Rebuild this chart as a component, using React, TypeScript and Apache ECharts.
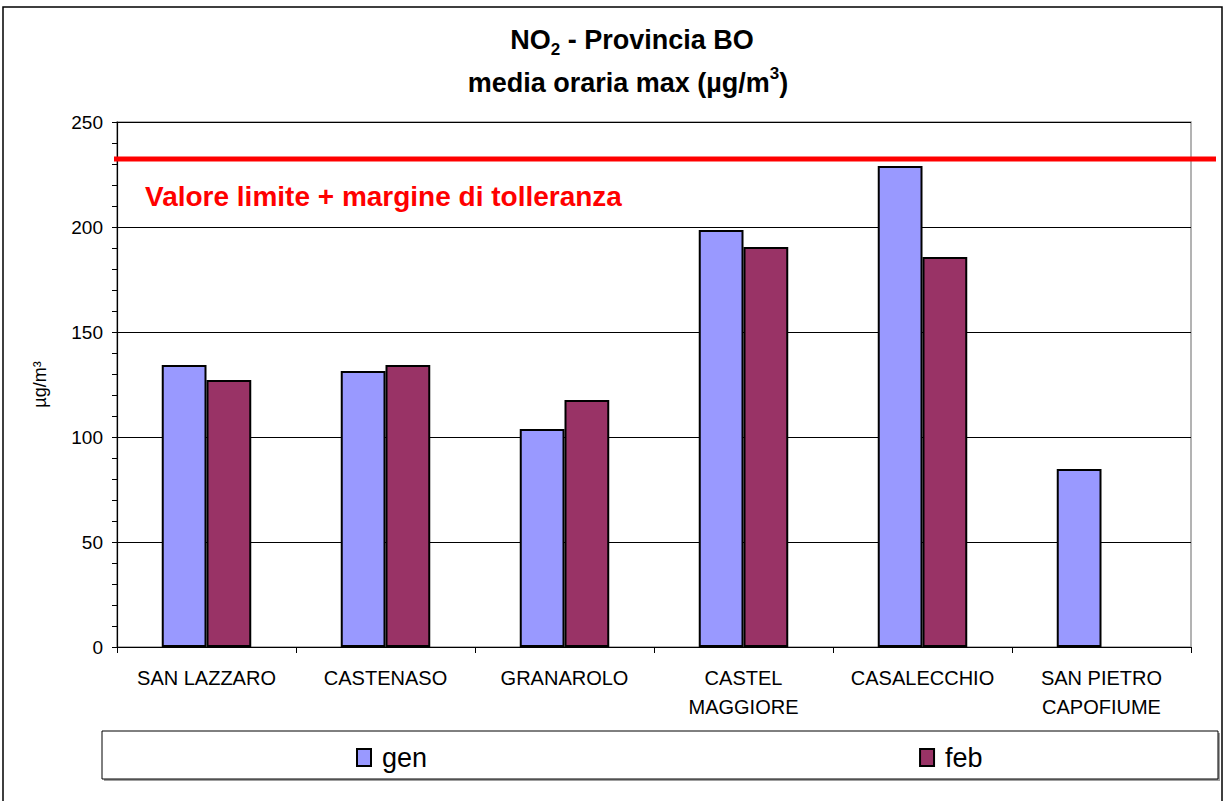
import React, { useEffect, useRef } from "react";
import * as echarts from "echarts";

const categories = ["SAN LAZZARO", "CASTENASO", "GRANAROLO", "CASTEL\nMAGGIORE", "CASALECCHIO", "SAN PIETRO\nCAPOFIUME"];
const genValues: (number | null)[] = [134.3, 131.4, 103.8, 198.6, 229, 84.8];
const febValues: (number | null)[] = [127.1, 134.3, 117.6, 190.5, 185.7, null];
const limitValue = 232.4;
const seriesNames = ["gen", "feb"];
const FONT = "'Liberation Sans', Arial, sans-serif";

export default function App() {
  const ref = useRef<HTMLDivElement>(null);
  useEffect(() => {
    if (!ref.current) return;
    const chart = echarts.init(ref.current, undefined, { renderer: "svg" });
    const gridLeft = 117;
    const option: any = {
      animation: false,
      backgroundColor: "#ffffff",
      textStyle: { fontFamily: FONT },
      grid: {
        left: gridLeft,
        right: 34,
        top: 122,
        bottom: 154,
        show: true,
        borderColor: "#9a9a9a",
        borderWidth: 1.5,
        backgroundColor: "transparent",
      },
      xAxis: {
        type: "category",
        data: categories,
        axisLine: { show: true, lineStyle: { color: "#000", width: 1.2 } },
        axisTick: { show: true, length: 6, lineStyle: { color: "#000" } },
        axisLabel: { color: "#000", fontSize: 20, fontFamily: FONT, lineHeight: 29, margin: 16, interval: 0 },
      },
      yAxis: {
        type: "value",
        min: 0,
        max: 250,
        interval: 50,
        name: "µg/m³",
        nameLocation: "middle",
        nameGap: 68,
        nameTextStyle: { color: "#000", fontSize: 18, fontFamily: FONT },
        axisLine: { show: true, lineStyle: { color: "#000", width: 1.2 } },
        axisTick: { show: true, length: 5, lineStyle: { color: "#000" } },
        minorTick: { show: true, splitNumber: 5, length: 5, lineStyle: { color: "#000" } },
        splitLine: { show: true, lineStyle: { color: "#000", width: 1 } },
        axisLabel: { color: "#000", fontSize: 19, fontFamily: FONT, margin: 14 },
      },
      legend: {
        left: 351,
        top: 739,
        itemWidth: 14,
        itemHeight: 17,
        itemGap: 492,
        icon: "rect",
        textStyle: { color: "#000", fontSize: 27, fontFamily: FONT, padding: [0, 0, 0, 6] },
        data: seriesNames,
      },
      series: [
        {
          name: seriesNames[0],
          type: "bar",
          data: genValues,
          barGap: "0%",
          barCategoryGap: "50%",
          itemStyle: { color: "#9999FF", borderColor: "#000", borderWidth: 2 },
        },
        {
          name: seriesNames[1],
          type: "bar",
          data: febValues,
          barGap: "0%",
          barCategoryGap: "50%",
          itemStyle: { color: "#993366", borderColor: "#000", borderWidth: 2 },
        },
      ],
    };
    chart.setOption(option);
    const limitY = chart.convertToPixel({ yAxisIndex: 0 }, limitValue) as number;
    chart.setOption({
      graphic: [
        {
          type: "rect",
          shape: { x: 3, y: 7, width: 1219, height: 800 },
          style: { fill: "none", stroke: "#000", lineWidth: 1.5 },
          silent: true,
        },
        {
          type: "rect",
          shape: { x: 104, y: 733, width: 1116, height: 48 },
          style: { fill: "#a0a0a0" },
          z: -1,
          silent: true,
        },
        {
          type: "rect",
          shape: { x: 102, y: 731, width: 1116, height: 48 },
          style: { fill: "#fff", stroke: "#000", lineWidth: 1 },
          z: 0,
          silent: true,
        },
        {
          type: "line",
          shape: { x1: gridLeft - 3, y1: limitY, x2: 1216, y2: limitY },
          style: { stroke: "#ff0000", lineWidth: 5 },
          z: 10,
          silent: true,
        },
        {
          type: "text",
          x: 145,
          y: 196,
          style: {
            text: "Valore limite + margine di tolleranza",
            fill: "#ff0000",
            font: `bold 28px ${FONT}`,
            textVerticalAlign: "middle",
          },
          z: 10,
        },
        {
          type: "text",
          x: 632,
          y: 40,
          style: {
            text: "{a|NO}{s|2}{a| - Provincia BO}",
            textAlign: "center",
            textVerticalAlign: "middle",
            rich: {
              a: { fontSize: 27, fontWeight: "bold", fontFamily: FONT, fill: "#000", lineHeight: 36 },
              s: { fontSize: 17, fontWeight: "bold", fontFamily: FONT, fill: "#000", lineHeight: 17, verticalAlign: "bottom" },
            },
          },
          z: 10,
        },
        {
          type: "text",
          x: 628,
          y: 83,
          style: {
            text: "{a|media oraria max (µg/m}{s|3}{a|)}",
            textAlign: "center",
            textVerticalAlign: "middle",
            rich: {
              a: { fontSize: 27, fontWeight: "bold", fontFamily: FONT, fill: "#000", lineHeight: 36 },
              s: { fontSize: 17, fontWeight: "bold", fontFamily: FONT, fill: "#000", lineHeight: 17, verticalAlign: "top" },
            },
          },
          z: 10,
        },
      ],
    });
    return () => chart.dispose();
  }, []);
  return (
    <div
      ref={ref}
      style={{ position: "fixed", left: 0, top: 0, width: 1225, height: 801, background: "#fff" }}
    />
  );
}
